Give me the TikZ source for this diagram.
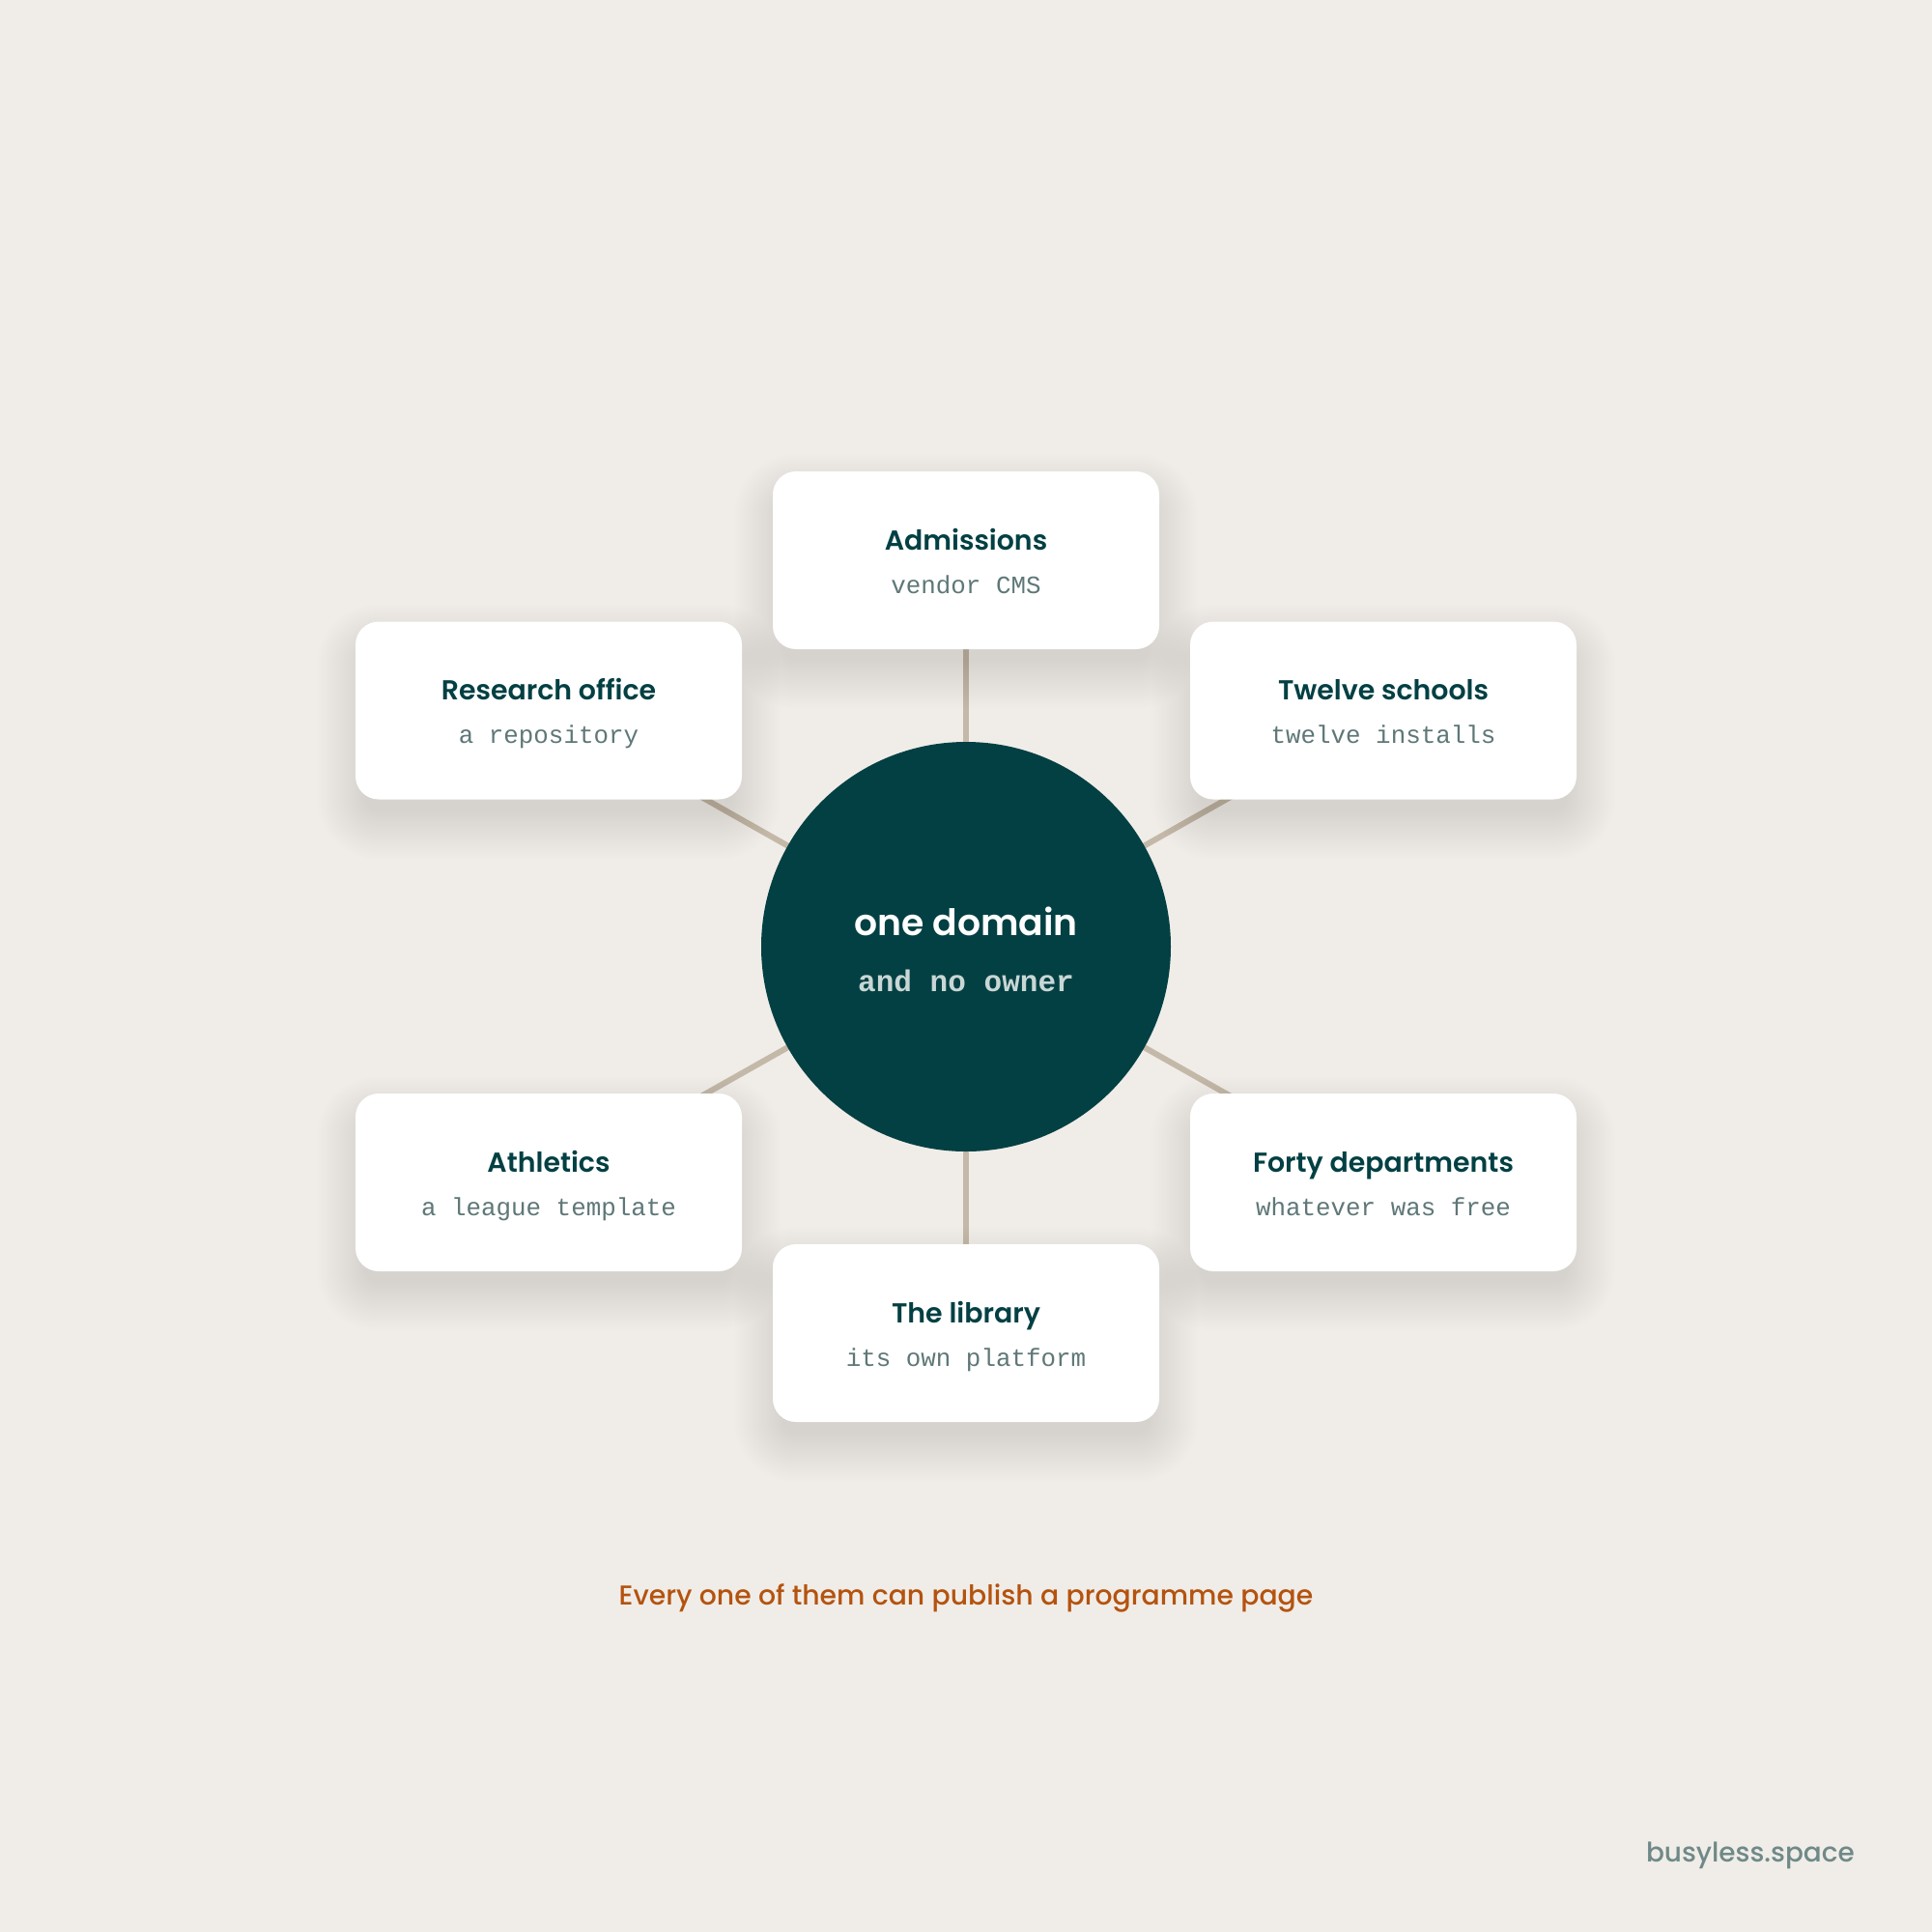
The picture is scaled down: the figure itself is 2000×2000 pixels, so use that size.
\documentclass[tikz,border=0pt]{standalone}
\usepackage{fontspec}
\usetikzlibrary{calc}
\newfontfamily\titlefont{Poppins SemiBold}
\newfontfamily\capfont{Poppins Medium}
\newfontfamily\monof{Liberation Mono}
\definecolor{bgc}{HTML}{F0EDE8}
\definecolor{tealc}{HTML}{034043}
\definecolor{subc}{HTML}{5F7777}
\definecolor{linec}{HTML}{C4B9A8}
\definecolor{capc}{HTML}{B4530F}
\definecolor{footc}{HTML}{6F8988}
\definecolor{ownc}{HTML}{C8D7D5}
\pgfdeclarelayer{bglayer}
\pgfdeclarelayer{linelayer}
\pgfdeclarelayer{shadowlayer}
\pgfsetlayers{bglayer,linelayer,shadowlayer,main}
\newcommand\cardshadow[1]{%
  \foreach \s in {-10,-8,...,40}{%
    \pgfmathsetmacro\rr{18+\s*0.75}%
    \fill[black, opacity=0.0042, rounded corners=\rr pt]
      ($(#1.north west)+(-\s,22-\s)$) rectangle ($(#1.south east)+(\s,22+\s)$);
  }%
}
\tikzset{
  card/.style={fill=white, rounded corners=18pt, minimum width=300pt, minimum height=138pt, inner sep=0pt},
  hub/.style={circle, fill=tealc, minimum size=318pt, inner sep=0pt},
  ttl/.style={font=\titlefont\fontsize{21.3}{26}\selectfont, text=tealc, anchor=base, inner sep=0pt},
  sub/.style={font=\monof\fontsize{19.4}{23}\selectfont, text=subc, anchor=base, inner sep=0pt},
  conn/.style={draw=linec, line width=4.5pt},
}
\begin{document}
\begin{tikzpicture}[x=0.75pt, y=-0.75pt]
\useasboundingbox (0,0) rectangle (2000,2000);
\begin{pgfonlayer}{bglayer}
\fill[bgc] (0,0) rectangle (2000,2000);
\end{pgfonlayer}

\node[hub] (hub) at (1000,980) {};
\node[ttl, text=white, font=\titlefont\fontsize{28.3}{34}\selectfont] (hubt) at (1000,968) {one domain};
\node[sub, text=ownc, font=\monof\bfseries\fontsize{23.3}{28}\selectfont] (hubs) at (1000,1026) {and no owner};

\node[card] (adm) at (1000,580) {};
\node[ttl] (admt) at ($(adm.center)+(0,-11)$) {Admissions};
\node[sub] (adms) at ($(adm.center)+(0,34)$) {vendor CMS};

\node[card] (res) at (568,735.5) {};
\node[ttl] (rest) at ($(res.center)+(0,-11)$) {Research office};
\node[sub] (ress) at ($(res.center)+(0,34)$) {a repository};

\node[card] (twe) at (1432,735.5) {};
\node[ttl] (twet) at ($(twe.center)+(0,-11)$) {Twelve schools};
\node[sub] (twes) at ($(twe.center)+(0,34)$) {twelve installs};

\node[card] (ath) at (568,1224) {};
\node[ttl] (atht) at ($(ath.center)+(0,-11)$) {Athletics};
\node[sub] (aths) at ($(ath.center)+(0,34)$) {a league template};

\node[card] (fort) at (1432,1224) {};
\node[ttl] (fortt) at ($(fort.center)+(0,-11)$) {Forty departments};
\node[sub] (forts) at ($(fort.center)+(0,34)$) {whatever was free};

\node[card] (lib) at (1000,1380) {};
\node[ttl] (libt) at ($(lib.center)+(0,-11)$) {The library};
\node[sub] (libs) at ($(lib.center)+(0,34)$) {its own platform};

\begin{pgfonlayer}{shadowlayer}
\cardshadow{adm}\cardshadow{res}\cardshadow{twe}\cardshadow{ath}\cardshadow{fort}\cardshadow{lib}
\end{pgfonlayer}
\begin{pgfonlayer}{linelayer}
\foreach \n in {adm,res,twe,ath,fort,lib}{\draw[conn] (hub.center) -- (\n.center);}
\end{pgfonlayer}

\node[font=\capfont\fontsize{21.2}{26}\selectfont, text=capc, anchor=base, inner sep=0pt] (cap) at (1000,1661) {Every one of them can publish a programme page};
\node[font=\capfont\fontsize{20.9}{25}\selectfont, text=footc, anchor=base east, inner sep=0pt] (foot) at (1920,1927) {busyless.space};
\end{tikzpicture}
\end{document}
